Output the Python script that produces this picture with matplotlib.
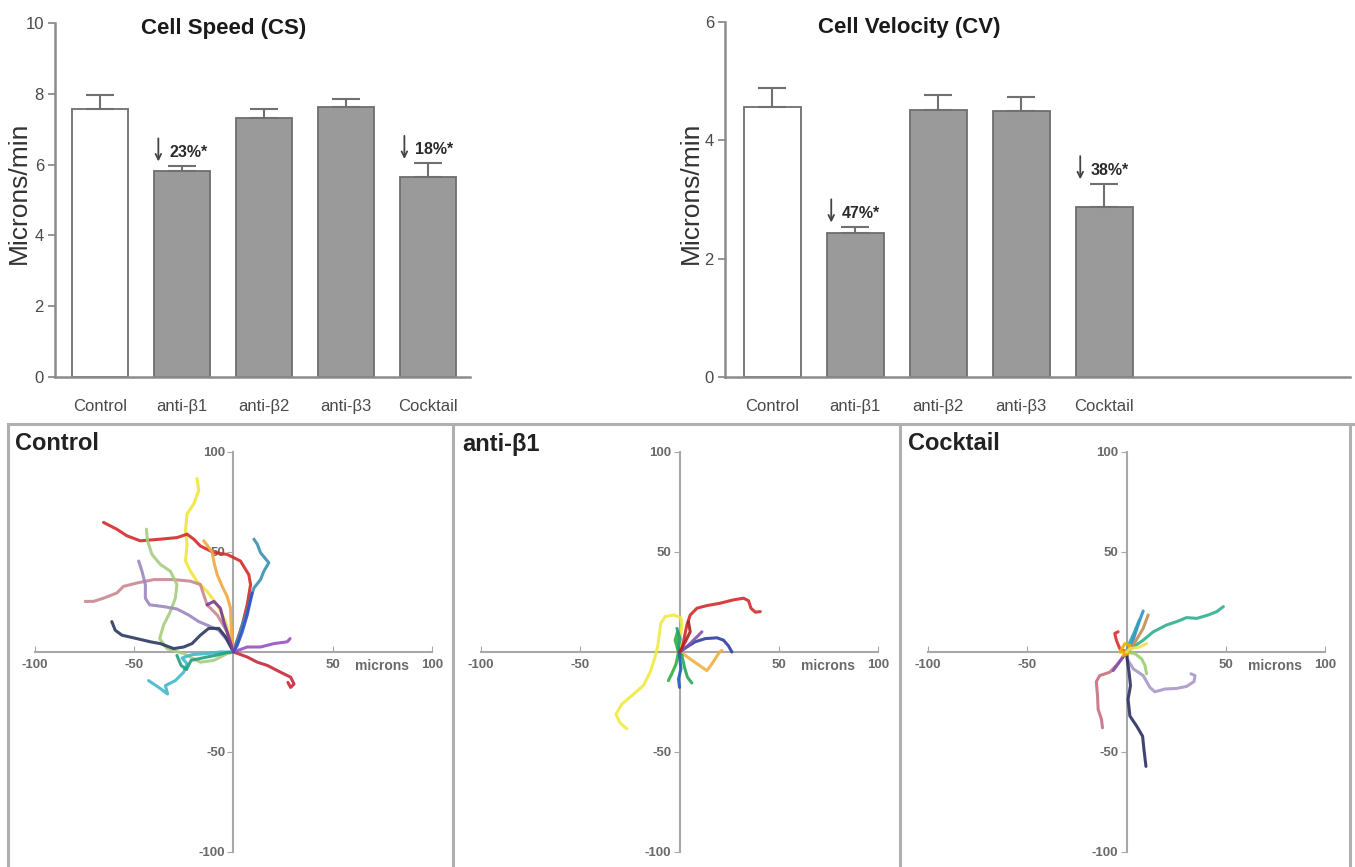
import numpy as np
import matplotlib
matplotlib.use("Agg")
import matplotlib.pyplot as plt

plt.rcParams['font.family'] = ['Liberation Sans', 'DejaVu Sans']
plt.rcParams['axes.unicode_minus'] = False

# ---- bar chart data ----
groups = ["Control", "anti-β1", "anti-β2", "anti-β3", "Cocktail"]
cs_mean = [7.58, 5.83, 7.33, 7.63, 5.66]
cs_err = [0.38, 0.14, 0.25, 0.21, 0.38]
cv_mean = [4.57, 2.44, 4.51, 4.49, 2.88]
cv_err = [0.32, 0.10, 0.26, 0.24, 0.39]
cs_notes = {1: "23%*", 4: "18%*"}
cv_notes = {1: "47%*", 4: "38%*"}

# ---- trajectory data (microns), every track starts at the origin ----
control_x = [
    [0, -0.7, -4.0, -8.2, -13.3, -18.4, -21.7, -24.2, -23.4, -24.2, -23.4, -20.0, -17.5, -18.4],
    [0, 1.0, 4.4, 6.9, 8.6, 7.7, 3.5, -3.2, -9.9, -16.7, -20.0, -23.4, -28.5, -36.9, -47.0, -53.7, -58.8, -65.5],
    [0, 6.9, 12.0, 17.0, 23.7, 28.8, 30.5, 28.8, 27.4],
    [0, 1.9, 4.4, 6.9, 8.6, 10.3, 13.6, 15.3, 17.8, 13.6, 12.0, 10.3],
    [0, 6.9, 13.6, 20.4, 27.1, 28.5],
    [0, -3.2, -8.2, -13.3, -15.0, -16.7, -21.7, -30.1, -40.2, -48.7, -55.4, -58.8, -65.5, -70.5, -74.7],
    [0, -3.2, -9.9, -16.7, -25.1, -33.5, -37.2, -35.2, -31.8, -29.3, -28.5, -31.8, -36.9, -41.1, -43.3, -43.9],
    [0, -3.2, -7.4, -12.5, -17.5, -22.6, -28.5, -35.2, -42.3, -44.4, -44.4, -46.1, -47.8],
    [0, -4.0, -7.4, -12.5, -16.7, -20.9, -25.1, -30.1, -36.9, -41.9, -48.7, -56.2, -59.6, -61.3],
    [0, -6.6, -13.3, -20.9, -25.9, -23.4, -25.1, -29.3, -34.3, -33.2, -37.7, -42.8],
    [0, -3.2, -9.1, -15.8, -21.4, -23.7, -26.4, -28.5],
    [0, -0.5, -1.2, -1.5, -3.2, -5.7, -8.2, -9.6, -10.8, -15.0],
    [0, 1.9, 4.4, 6.9, 9.4],
    [0, -4.9, -6.6, -9.9, -13.3],
]
control_y = [
    [0, 3.4, 15.2, 23.6, 30.3, 35.4, 40.4, 45.5, 53.9, 60.6, 69.0, 74.1, 80.8, 86.7],
    [0, 3.4, 13.5, 23.6, 33.7, 38.7, 45.5, 48.8, 49.7, 53.0, 56.4, 58.9, 57.2, 56.4, 55.6, 58.1, 61.4, 64.8],
    [0, -2.5, -5.1, -6.7, -10.1, -12.6, -16.0, -17.7, -15.2],
    [0, 5.1, 13.5, 20.2, 26.9, 32.0, 36.2, 40.4, 44.6, 49.7, 53.9, 56.4],
    [0, 2.5, 2.5, 4.2, 5.1, 6.7],
    [0, 10.1, 18.5, 23.6, 28.6, 33.7, 35.4, 36.2, 36.2, 34.5, 32.8, 29.5, 26.9, 25.3, 25.3],
    [0, -0.8, -4.2, -5.1, -0.8, 1.7, 6.7, 13.5, 20.2, 26.9, 33.7, 40.4, 43.8, 48.8, 55.6, 61.4],
    [0, 5.9, 10.9, 13.1, 15.2, 18.5, 21.5, 22.7, 23.6, 26.9, 33.7, 40.4, 45.5],
    [0, 7.6, 11.8, 11.8, 8.4, 4.2, 2.5, 1.7, 4.2, 5.1, 6.7, 8.4, 10.9, 15.2],
    [0, 0, -0.8, -1.3, -3.0, -5.9, -10.1, -14.3, -16.8, -21.0, -17.7, -14.3],
    [0, -0.3, -1.7, -3.0, -4.2, -8.8, -6.7, -1.7],
    [0, 3.4, 13.5, 21.9, 27.8, 32.8, 38.7, 43.8, 50.2, 55.6],
    [0, 3.4, 10.1, 18.5, 29.5],
    [0, 15.2, 21.9, 25.3, 23.6],
]
control_colors = ["#f0e63c", "#d42a2a", "#c8283a", "#3a90b0", "#9a50c0", "#c88890", "#a8cc80",
                  "#9a88c0", "#2c3a60", "#40b8cc", "#20a080", "#f0a840", "#3050c8", "#7a3a9a"]

beta1_x = [
    [0, 2.0, 3.7, 5.4, 8.8, 13.8, 20.5, 27.3, 32.3, 34.8, 36.0, 38.2, 40.7],
    [0, 0.3, 1.2, 0.7, -3.0, -7.2, -9.4, -10.1, -10.9, -12.3, -14.8, -18.2, -24.1, -29.1, -32.0, -30.0, -26.6],
    [0, 3.7, 7.9, 13.0, 18.9, 22.2, 24.7, 26.4],
    [0, 2.9, 7.1, 11.3, 13.8, 15.8, 18.0, 20.2, 21.4],
    [0, 4.5, 8.8, 11.3],
    [0, -0.5, -2.2, -1.0, -0.5, -1.7, -3.9, -5.6],
    [0, 1.2, 2.5, 4.0, 6.2],
    [0, 0, 0.7, -0.5, 0],
    [0, -0.5, 0.3, -1.3],
    [0, 2.9, 5.4, 4.5],
]
beta1_y = [
    [0, 5.1, 13.5, 18.5, 21.9, 23.2, 24.4, 26.1, 26.9, 25.6, 21.9, 19.9, 20.2],
    [0, 5.1, 13.5, 17.2, 18.5, 17.7, 14.3, 9.3, 3.4, -2.5, -10.1, -16.8, -21.9, -26.1, -31.1, -35.4, -38.4],
    [0, 2.5, 5.1, 6.7, 7.1, 5.9, 3.0, 0],
    [0, -1.7, -4.7, -7.6, -9.3, -6.7, -3.4, 0, 0.8],
    [0, 3.4, 7.6, 10.1],
    [0, 0, 5.9, 10.1, 0, -5.9, -10.9, -14.3],
    [0, -1.7, -7.6, -12.6, -15.5],
    [0, -1.7, -8.4, -13.5, -17.7],
    [0, 2.5, 6.7, 11.8],
    [0, 5.1, 10.1, 15.2],
]
beta1_colors = ["#d42a2a", "#f0ea40", "#3040a0", "#f0b040", "#8050b0", "#30b040",
                "#28a850", "#2060c0", "#20a080", "#b02020"]

cocktail_x = [
    [0, 3.4, 8.4, 13.5, 20.2, 25.3, 30.3, 35.4, 41.2, 45.5, 48.8],
    [0, 0.8, 3.4, 8.4, 11.8, 14.3, 19.4, 25.3, 30.3, 34.0, 34.5, 32.5],
    [0, 0.3, 1.3, 2.0, 0.8, 1.7, 5.1, 8.1, 8.8, 9.8],
    [0, -2.5, -5.1, -8.4, -13.5, -15.2, -14.6, -14.3, -12.6, -12.1],
    [0, -1.7, -4.2, -6.7],
    [0, 4.2, 7.6, 9.3, 10.1],
    [0, 2.5, 4.7, 6.4, 8.4],
    [0, 3.4, 8.4, 10.9],
    [0, 1.5, 4.0, 6.5],
    [0, -3.4, -5.1, -5.9, -4.2],
    [0, -3.4, -0.8, 1.7, 0.8, -1.7],
    [0, 1.7, 6.7, 10.1],
]
cocktail_y = [
    [0, 2.5, 5.9, 10.1, 13.5, 15.2, 17.2, 16.8, 18.5, 20.2, 22.7],
    [0, -4.2, -8.4, -11.8, -17.7, -19.9, -18.5, -18.2, -17.2, -14.8, -11.8, -10.9],
    [0, -3.4, -10.1, -16.8, -23.6, -32.0, -37.0, -42.1, -48.8, -57.2],
    [0, -3.4, -6.7, -10.1, -11.8, -14.8, -21.9, -28.6, -33.7, -37.9],
    [0, -2.5, -5.9, -9.3],
    [0, -0.8, -3.4, -6.7, -10.9],
    [0, 3.4, 10.1, 15.2, 20.5],
    [0, 3.4, 11.8, 18.5],
    [0, 4.5, 10.0, 16.0],
    [0, 1.7, 5.9, 9.3, 10.1],
    [0, 0, 4.2, 3.4, -0.8, -1.7],
    [0, 1.7, 2.5, 4.2],
]
cocktail_colors = ["#30b090", "#a898c8", "#2c3060", "#c87080", "#8050b0", "#98d070",
                   "#3090d0", "#c09050", "#30a0b8", "#d83030", "#f0b000", "#f0e050"]

W, H = 1355, 867
fig = plt.figure(figsize=(W / 100, H / 100), dpi=100)


def px_axes(x0, x1, y_top, y_bot):
    return fig.add_axes([x0 / W, 1 - y_bot / H, (x1 - x0) / W, (y_bot - y_top) / H])


AX_GRAY = "#8c8c8c"


def bar_panel(ax, means, errs, notes, title, ymax, yticks, xlim, title_x):
    x = np.arange(len(groups))
    colors = ["white"] + ["#9a9a9a"] * (len(groups) - 1)
    ax.bar(x, means, width=0.68, color=colors, edgecolor="#6e6e6e", linewidth=1.3, zorder=2)
    ax.errorbar(x, means, yerr=[np.zeros(len(errs)), errs], fmt="none", ecolor="#707070",
                elinewidth=1.5, capsize=10, capthick=1.5, zorder=3)
    ax.set_xlim(*xlim)
    ax.set_ylim(0, ymax)
    ax.set_yticks(yticks)
    ax.set_xticks(x)
    ax.set_xticklabels(groups)
    for s in ["top", "right"]:
        ax.spines[s].set_visible(False)
    for s in ["left", "bottom"]:
        ax.spines[s].set_color(AX_GRAY)
        ax.spines[s].set_linewidth(1.8)
    ax.tick_params(axis="x", length=0, pad=16, labelsize=12, labelcolor="#4a4a4a")
    ax.tick_params(axis="y", length=5, width=1.3, color=AX_GRAY, pad=3, labelsize=12,
                   labelcolor="#4a4a4a")
    ax.set_ylabel("Microns/min", fontsize=19, color="#333333")
    ax.text(title_x, 0.985, title, transform=ax.transAxes, ha="center", va="center",
            fontsize=16, fontweight="bold", color="#1a1a1a")
    for i, lab in notes.items():
        top = means[i] + errs[i]
        ax.annotate("", xy=(i - 0.29, top + 0.004 * ymax), xytext=(i - 0.29, top + 0.085 * ymax),
                    arrowprops=dict(arrowstyle="->", color="#444444", lw=1.3))
        ax.text(i - 0.16, top + 0.038 * ymax, lab, ha="left", va="center",
                fontsize=11.5, fontweight="bold", color="#2a2a2a")


ax1 = px_axes(55, 470, 23, 377)
bar_panel(ax1, cs_mean, cs_err, cs_notes, "Cell Speed (CS)", 10, [0, 2, 4, 6, 8, 10],
          (-0.55, 4.51), 0.407)
ax1.yaxis.set_label_coords(-0.058, 0.52)

ax2 = px_axes(725, 1350, 22, 377)
bar_panel(ax2, cv_mean, cv_err, cv_notes, "Cell Velocity (CV)", 6, [0, 2, 4, 6],
          (-0.57, 6.96), 0.294)
ax2.yaxis.set_label_coords(-0.036, 0.52)

# ---- panel frames ----
frame = fig.add_axes([0, 0, 1, 1])
frame.set_xlim(0, W)
frame.set_ylim(H, 0)
frame.axis("off")
frame.plot([8, W], [424, 424], color="#b0b0b0", lw=2.2)
for xv in [8, 453, 900, 1350]:
    frame.plot([xv, xv], [424, H], color="#b0b0b0", lw=2.2)
for xv, name in zip([15, 462, 908], ["Control", "anti-β1", "Cocktail"]):
    frame.text(xv, 444, name, ha="left", va="center", fontsize=17, fontweight="bold",
               color="#222222")


def track_panel(x0, xs, ys, cols):
    ax = px_axes(x0, x0 + 397, 452, 852)
    ax.set_xlim(-100, 100)
    ax.set_ylim(-100, 100)
    ax.patch.set_alpha(0)
    for s in ["top", "right"]:
        ax.spines[s].set_visible(False)
    for s in ["left", "bottom"]:
        ax.spines[s].set_position("zero")
        ax.spines[s].set_color("#a8a8a8")
        ax.spines[s].set_linewidth(1.5)
    ax.set_xticks([-100, -50, 50, 100])
    ax.set_yticks([-100, -50, 50, 100])
    ax.tick_params(axis="x", direction="in", length=4, color="#a8a8a8", pad=5,
                   labelsize=9.5, labelcolor="#6a6a6a")
    ax.tick_params(axis="y", direction="out", length=4, color="#a8a8a8", pad=2,
                   labelsize=9.5, labelcolor="#6a6a6a")
    for lab in ax.get_xticklabels() + ax.get_yticklabels():
        lab.set_fontweight("bold")
    ax.annotate("microns", xy=(75, 0), xytext=(0, -5), textcoords="offset points",
                ha="center", va="top", fontsize=10, fontweight="bold", color="#6a6a6a")
    for tx, ty, c in zip(xs, ys, cols):
        ax.plot(tx, ty, color=c, lw=2.2, alpha=0.9, solid_capstyle="round", zorder=3)
    return ax


track_panel(35, control_x, control_y, control_colors)
track_panel(481, beta1_x, beta1_y, beta1_colors)
track_panel(928, cocktail_x, cocktail_y, cocktail_colors)

fig.savefig("out.png", dpi=100)
